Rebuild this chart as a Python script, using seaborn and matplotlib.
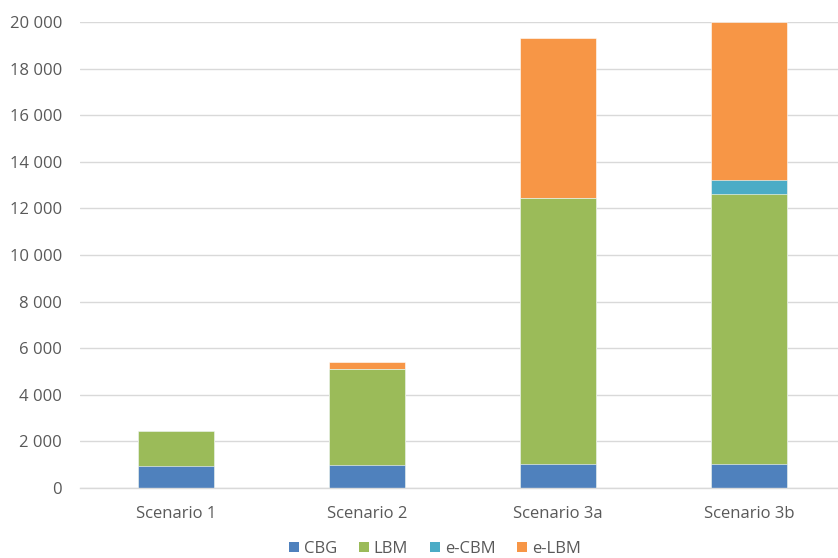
import matplotlib
matplotlib.use("Agg")
import matplotlib.pyplot as plt
from matplotlib.patches import Patch
from matplotlib.ticker import FuncFormatter
import numpy as np
import pandas as pd
import seaborn as sns

scenarios = ["Scenario 1", "Scenario 2", "Scenario 3a", "Scenario 3b"]
series = ["CBG", "LBM", "e-CBM", "e-LBM"]
cbg = [950, 990, 1030, 1030]
lbm = [1480, 4120, 11400, 11600]
e_cbm = [0, 0, 0, 590]
e_lbm = [0, 280, 6870, 6780]
colors = ["#4F81BD", "#9BBB59", "#4BACC6", "#F79646"]

sns.set_theme(style="white")
plt.rcParams["font.family"] = ["Open Sans", "DejaVu Sans"]

values = np.array([cbg, lbm, e_cbm, e_lbm], dtype=float)
cum = np.cumsum(values, axis=0)

df = pd.DataFrame({"scenario": scenarios})
for name, c in zip(series, cum):
    df[name] = c

fig = plt.figure(figsize=(8.38, 5.58), dpi=100)
ax = fig.add_axes([0.0958, 0.1254, 0.9117, 0.8352])

# stacked bars: draw cumulative totals from the top segment down
for name, color in reversed(list(zip(series, colors))):
    sns.barplot(data=df, x="scenario", y=name, color=color, width=0.4,
                saturation=1, edgecolor="white", linewidth=0.4, ax=ax)

ax.set_ylim(0, 20000)
ax.set_yticks(np.arange(0, 20001, 2000))
ax.yaxis.set_major_formatter(FuncFormatter(lambda v, p: f"{int(v):,}".replace(",", " ")))
ax.set_xlim(-0.5, 3.5)
ax.set_xlabel("")
ax.set_ylabel("")
ax.grid(axis="y", color="#D9D9D9", linewidth=1)
ax.set_axisbelow(True)
for s in ["top", "right", "left"]:
    ax.spines[s].set_visible(False)
ax.spines["bottom"].set_color("#D9D9D9")
ax.spines["bottom"].set_linewidth(1)
ax.tick_params(axis="both", length=0, labelsize=12, labelcolor="#595959")
ax.tick_params(axis="y", pad=13)
ax.tick_params(axis="x", pad=13)

handles = [Patch(facecolor=c, edgecolor="none") for c in colors]
fig.legend(handles, series, loc="center", bbox_to_anchor=(0.519, 0.016),
           ncol=4, frameon=False, fontsize=12, handlelength=0.6, handleheight=0.6,
           handletextpad=0.3, columnspacing=1.3, labelcolor="#595959")

fig.savefig("out.png", dpi=100)
